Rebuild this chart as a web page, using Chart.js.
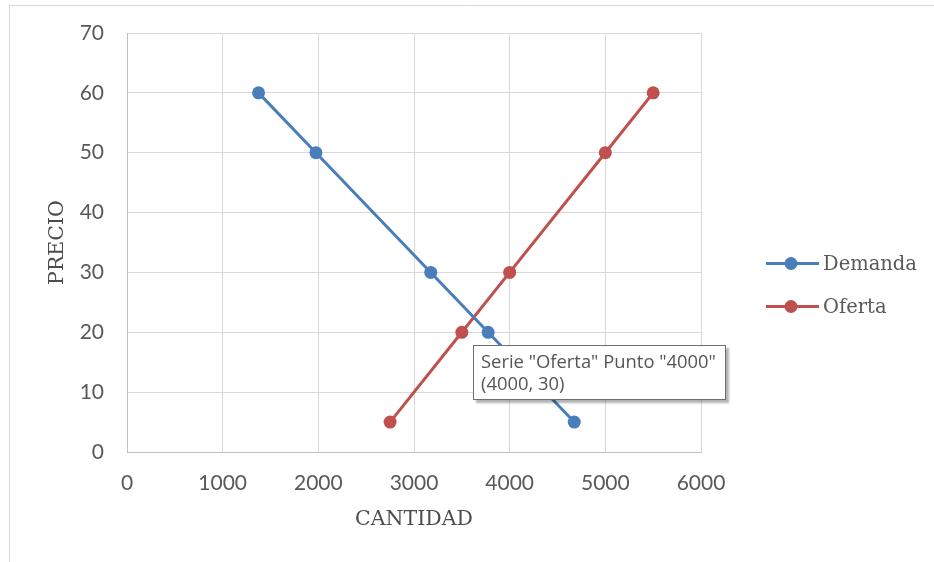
<!DOCTYPE html>
<html>
<head>
<meta charset="utf-8">
<script src="https://cdn.jsdelivr.net/npm/chart.js@4/dist/chart.umd.min.js"></script>
<style>
  body { margin: 0; background: #fff; }
  #wrap { position: relative; width: 934px; height: 562px; }
  #tip {
    position: absolute; left: 473px; top: 345px; width: 237px; height: 48px;
    padding: 4px 7px 1px 7px; background: #fff; border: 1px solid #6e6e6e;
    box-shadow: 3px 3px 2px rgba(0,0,0,0.3);
    font: 18.4px "Open Sans", sans-serif; color: #555; line-height: 22px;
    white-space: nowrap;
  }
</style>
</head>
<body>
<div id="wrap">
  <canvas id="chart" width="934" height="562"></canvas>
  <div id="tip"></div>
</div>
<script>
// Demanda / Oferta curves (cantidad on x, precio on y)
var demandaCantidad = [1375, 1975, 3175, 3775, 4675];
var demandaPrecio = [60, 50, 30, 20, 5];
var ofertaCantidad = [2750, 3500, 4000, 5000, 5500];
var ofertaPrecio = [5, 20, 30, 50, 60];

var xTicks = [0, 1000, 2000, 3000, 4000, 5000, 6000];
var yTicks = [0, 10, 20, 30, 40, 50, 60, 70];

var blue = '#4a7ebb';
var red = '#c0504d';
var tickColor = '#595959';

function points(xs, ys) {
    return xs.map(function(x, i) { return {x: x, y: ys[i]}; });
}

function series(label, xs, ys, color) {
    return {
        label: label,
        data: points(xs, ys),
        showLine: true,
        borderColor: color,
        backgroundColor: color,
        borderWidth: 3,
        pointRadius: 6.5,
        pointBorderWidth: 0,
        pointBackgroundColor: color
    };
}

// frame round the chart and the legend on the right
var extras = {
    id: 'extras',
    beforeDraw: function(chart) {
        var ctx = chart.ctx;
        ctx.save();
        ctx.fillStyle = '#fff';
        ctx.fillRect(0, 0, chart.width, chart.height);
        ctx.strokeStyle = '#d9d9d9';
        ctx.lineWidth = 1;
        ctx.beginPath();
        ctx.moveTo(9.5, chart.height);
        ctx.lineTo(9.5, 5.5);
        ctx.lineTo(chart.width, 5.5);
        ctx.stroke();
        ctx.restore();
    },
    afterDraw: function(chart) {
        var ctx = chart.ctx;
        ctx.save();
        chart.data.datasets.forEach(function(ds, i) {
            var y = 263.5 + i * 43;
            ctx.strokeStyle = ds.borderColor;
            ctx.lineWidth = 3;
            ctx.beginPath();
            ctx.moveTo(766, y);
            ctx.lineTo(819, y);
            ctx.stroke();
            ctx.fillStyle = ds.borderColor;
            ctx.beginPath();
            ctx.arc(791, y, 6.5, 0, Math.PI * 2);
            ctx.fill();
            ctx.fillStyle = tickColor;
            ctx.font = '19.5px "DejaVu Serif"';
            ctx.textBaseline = 'middle';
            ctx.fillText(ds.label, 823, y + 1);
        });
        ctx.restore();
    }
};

var tickFont = {family: 'Lato', size: 21};
var titleFont = {family: '"DejaVu Serif"', size: 20.5, lineHeight: 1.2};

new Chart(document.getElementById('chart'), {
    type: 'scatter',
    data: {
        datasets: [
            series('Demanda', demandaCantidad, demandaPrecio, blue),
            series('Oferta', ofertaCantidad, ofertaPrecio, red)
        ]
    },
    options: {
        responsive: false,
        animation: false,
        layout: {padding: {left: 0, top: 33, right: 233, bottom: 0}},
        plugins: {legend: {display: false}, tooltip: {enabled: false}},
        scales: {
            x: {
                type: 'linear', min: 0, max: 6000,
                afterBuildTicks: function(s) { s.ticks = xTicks.map(function(v) { return {value: v}; }); },
                afterFit: function(s) { s.height = 110; },
                grid: {color: '#d9d9d9', drawTicks: false},
                border: {color: '#bfbfbf'},
                ticks: {color: tickColor, font: tickFont, padding: 19, maxRotation: 0,
                        callback: function(v) { return String(v); }},
                title: {display: true, text: 'CANTIDAD', color: '#4d4d4d', font: titleFont, padding: {bottom: 30}}
            },
            y: {
                type: 'linear', min: 0, max: 70,
                afterBuildTicks: function(s) { s.ticks = yTicks.map(function(v) { return {value: v}; }); },
                afterFit: function(s) { s.width = 127; s.paddingTop = 0; s.paddingBottom = 0; },
                grid: {color: '#d9d9d9', drawTicks: false},
                border: {color: '#bfbfbf'},
                ticks: {color: tickColor, font: tickFont, padding: 23},
                title: {display: true, text: 'PRECIO', color: '#4d4d4d', font: titleFont, padding: {top: 45}}
            }
        }
    },
    plugins: [extras]
});

document.getElementById('tip').innerHTML =
    'Serie "Oferta" Punto "' + ofertaCantidad[2] + '"<br>(' + ofertaCantidad[2] + ', ' + ofertaPrecio[2] + ')';
</script>
</body>
</html>
